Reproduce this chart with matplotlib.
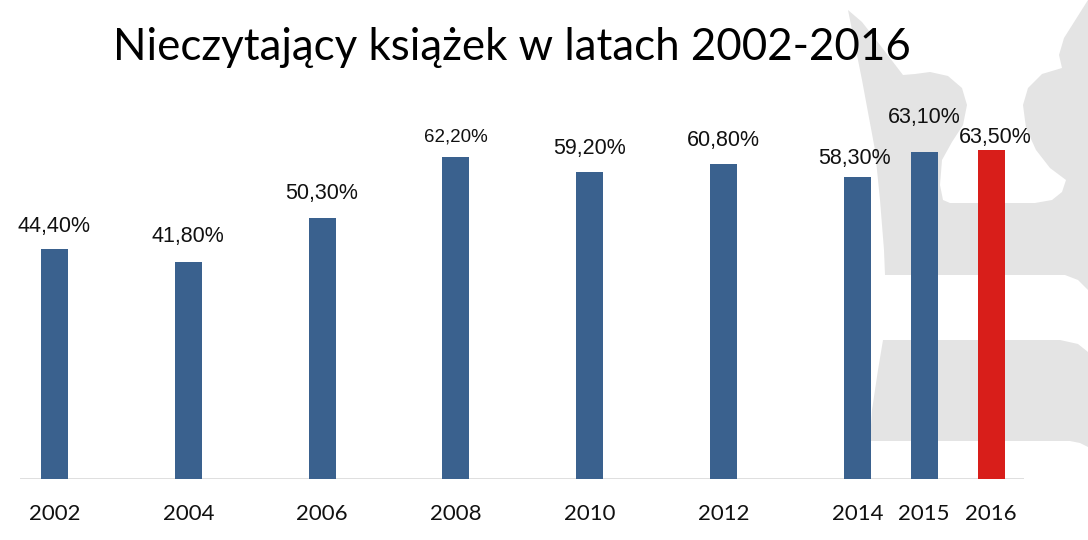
import matplotlib
matplotlib.use("Agg")
import matplotlib.pyplot as plt
import numpy as np
from matplotlib.patches import Polygon

# ---- data ----
years = [2002, 2004, 2006, 2008, 2010, 2012, 2014, 2015, 2016]
values = [44.4, 41.8, 50.3, 62.2, 59.2, 60.8, 58.3, 63.1, 63.5]
value_labels = ["44,40%", "41,80%", "50,30%", "62,20%", "59,20%",
                "60,80%", "58,30%", "63,10%", "63,50%"]
tick_labels = ["2002", "2004", "2006", "2008", "2010", "2012", "2014", "2015", "2016"]
title = "Nieczytający książek w latach 2002-2016"

# ---- style ----
label_gap_px = [17, 20, 19, 15, 18, 18, 13, 29, 7]
label_size = [15.5, 15.5, 15.5, 13.5, 15.5, 15.5, 15.5, 15.5, 15.5]
label_dx_px = [0, 0, 0, 0, 0, 0, -3, 0, 4]
blue = "#3A618E"
red = "#D81E1A"
colors = [blue] * 8 + [red]

W, H = 1088, 540
fig = plt.figure(figsize=(W / 100, H / 100), dpi=100)
fig.patch.set_facecolor("white")

# decorative light-grey background silhouette (pixel coordinates, y down)
def px_poly(pts):
    a = np.array(pts, dtype=float)
    a[:, 0] = a[:, 0] / W
    a[:, 1] = 1 - a[:, 1] / H
    return Polygon(a, closed=True, transform=fig.transFigure,
                   facecolor="#e4e4e4", edgecolor="none", zorder=-5)

upper = [(848, 10), (862, 22), (880, 45), (903, 75), (915, 74), (930, 72),
         (948, 76), (962, 88), (967, 105), (963, 125), (952, 142),
         (942, 160), (940, 185), (943, 200), (950, 203), (1035, 203),
         (1052, 200), (1062, 192), (1066, 180), (1050, 168), (1036, 150),
         (1026, 128), (1023, 105), (1028, 88), (1042, 74), (1062, 68),
         (1059, 55), (1064, 38), (1088, 0), (1088, 290), (1078, 280),
         (1065, 275), (885, 275), (884, 250), (880, 200), (875, 150),
         (862, 80)]
lower = [(883, 340), (1060, 340), (1078, 344), (1088, 352), (1088, 447),
         (1080, 443), (1070, 441), (870, 441), (872, 410), (878, 370)]
fig.add_artist(px_poly(upper))
fig.add_artist(px_poly(lower))

# axes: x scale ~66.9 px per year, 2002 centered at x=54.5
pxy = 66.9
x0 = 2002 - 54.5 / pxy
x1 = 2002 + (W - 54.5) / pxy
ax = fig.add_axes([0, 61 / H, 1, 1 - 61 / H])
ax.patch.set_alpha(0)
ax.set_xlim(x0, x1)
ax.set_ylim(0, 479 / 5.18)

ax.bar(years, values, width=27 / pxy, color=colors, zorder=3)
ax.hlines(0, years[0] - 0.52, years[-1] + 0.49, color="#d9d9d9", lw=1.2, zorder=2)

for yr, v, lab, gap, fs, dx in zip(years, values, value_labels, label_gap_px, label_size, label_dx_px):
    ax.annotate(lab, (yr, v), xytext=(dx * 0.72, gap * 0.72), textcoords="offset points",
                ha="center", va="baseline", fontsize=fs, family="Liberation Sans",
                color="#111111", zorder=4)

for s in ax.spines.values():
    s.set_visible(False)
ax.set_yticks([])
ax.set_xticks(years)
ax.set_xticklabels(tick_labels, fontsize=16, family="Lato", color="#111111")
ax.tick_params(axis="x", length=0, pad=18)

fig.text(512 / W, 1 - 47 / H, title, ha="center", va="center",
         fontsize=31.6, family="Lato", color="black")

fig.savefig("out.png", dpi=100, facecolor="white")
